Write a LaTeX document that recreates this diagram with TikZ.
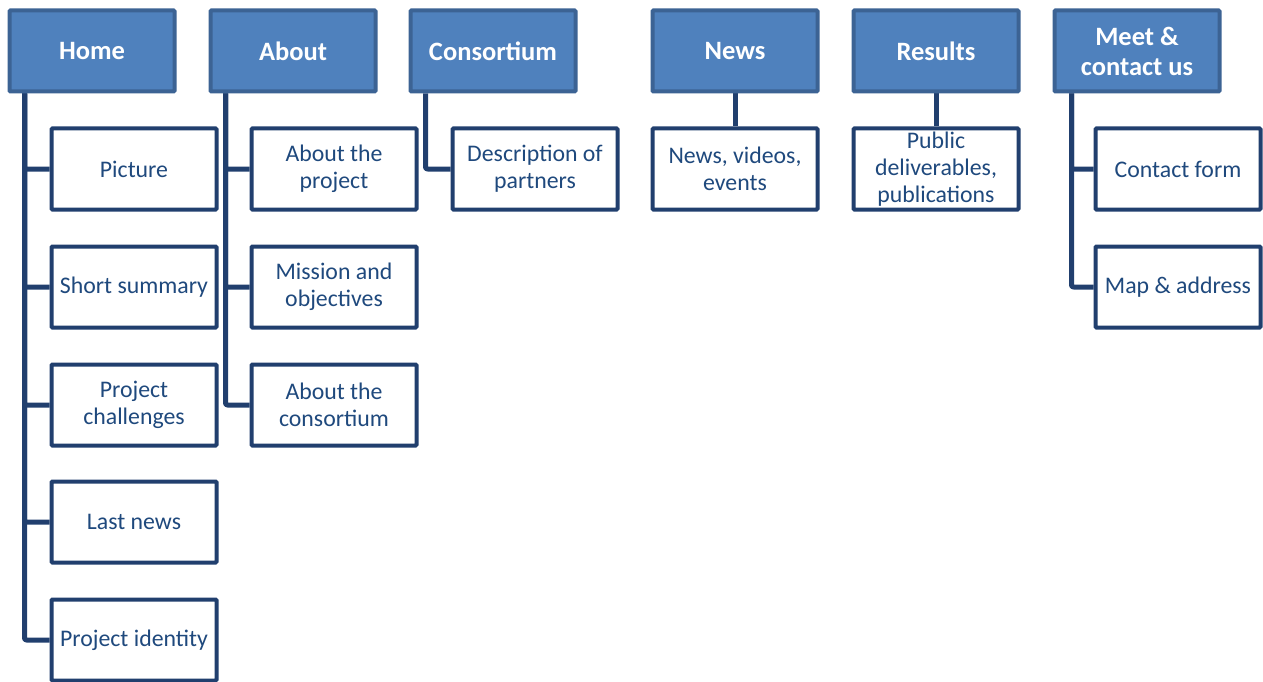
\documentclass[tikz,border=0pt]{standalone}
\usepackage{fontspec}
\setmainfont{Carlito}
\usetikzlibrary{backgrounds}
\definecolor{pfill}{HTML}{4F81BD}
\definecolor{pborder}{HTML}{3C6394}
\definecolor{cborder}{HTML}{213F6E}
\definecolor{ctext}{HTML}{1F497D}
\tikzset{
  parentbox/.style={draw=pborder, fill=pfill, line width=4pt, minimum width=165pt, minimum height=81pt, inner sep=0pt, align=center, text=white, font=\fontsize{26.5}{30}\selectfont\bfseries, rounded corners=1pt},
  childbox/.style={draw=cborder, fill=white, line width=4pt, minimum width=165pt, minimum height=81pt, inner sep=0pt, align=center, text=ctext, font=\fontsize{23.8}{27}\selectfont, rounded corners=1pt},
  conn/.style={draw=cborder, line width=5pt, line join=round, rounded corners=2pt}
}
\begin{document}
\begin{tikzpicture}[x=1pt,y=-1pt]
\useasboundingbox (0,0) rectangle (1263,682);
% parents
\node[parentbox] (home) at (92,51) {Home};
\node[parentbox] (about) at (293,51) {About};
\node[parentbox] (cons) at (493,51) {Consortium};
\node[parentbox] (news) at (735,51) {News};
\node[parentbox] (res) at (936,51) {Results};
\node[parentbox] (meet) at (1137,51) {Meet \&\\contact us};
% home children
\node[childbox] (h1) at (134,169) {Picture};
\node[childbox] (h2) at (134,287) {Short summary};
\node[childbox] (h3) at (134,405) {Project\\challenges};
\node[childbox] (h4) at (134,522) {Last news};
\node[childbox] (h5) at (134,640) {Project identity};
% about children
\node[childbox] (a1) at (334,169) {About the\\project};
\node[childbox] (a2) at (334,287) {Mission and\\objectives};
\node[childbox] (a3) at (334,405) {About the\\consortium};
% consortium
\node[childbox] (c1) at (535,169) {Description of\\partners};
% news
\node[childbox] (n1) at (735,169) {News, videos,\\events};
% results
\node[childbox] (r1) at (936,169) {Public\\deliverables,\\publications};
% meet
\node[childbox] (m1) at (1178,169) {Contact form};
\node[childbox] (m2) at (1178,287) {Map \& address};
\begin{pgfonlayer}{background}
\foreach \c in {h1,h2,h3,h4,h5}
  \draw[conn] ([xshift=17pt]home.south west) |- (\c.west);
\foreach \c in {a1,a2,a3}
  \draw[conn] ([xshift=17pt]about.south west) |- (\c.west);
\draw[conn] ([xshift=17pt]cons.south west) |- (c1.west);
\draw[conn] (news.south) -- (n1.north);
\draw[conn] (res.south) -- (r1.north);
\foreach \c in {m1,m2}
  \draw[conn] ([xshift=19pt]meet.south west) |- (\c.west);
\end{pgfonlayer}
\end{tikzpicture}
\end{document}
